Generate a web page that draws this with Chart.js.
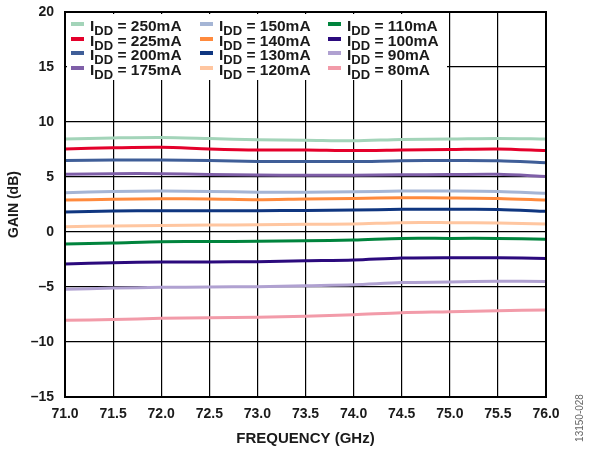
<!DOCTYPE html>
<html lang="en">
<head>
<meta charset="UTF-8">
<title>Gain vs Frequency</title>
<script src="https://cdn.jsdelivr.net/npm/chart.js"></script>
<style>
  html,body{margin:0;padding:0;background:#fff;}
  #wrap{position:relative;width:592px;height:454px;}
  #legendBox{position:absolute;left:67px;top:14px;width:380px;height:66px;background:#fff;
             font-family:"Liberation Sans",Arial,sans-serif;font-weight:bold;font-size:15.5px;color:#1a1a1a;}
  .item{position:absolute;white-space:nowrap;line-height:15px;}
  .sw{position:absolute;width:13px;height:4px;}
  .item sub{font-size:13px;vertical-align:-4px;line-height:0;}
</style>
</head>
<body>
<div id="wrap">
  <canvas id="c" width="592" height="454"></canvas>
  <div id="legendBox"></div>
</div>
<script>
// frequency points (GHz)
const freqs = [71.0, 71.5, 72.0, 72.5, 73.0, 73.5, 74.0, 74.5, 75.0, 75.5, 76.0];

// gain (dB) per supply current
const g250 = [8.45, 8.55, 8.6, 8.5, 8.38, 8.35, 8.3, 8.42, 8.45, 8.5, 8.45];
const g225 = [7.55, 7.65, 7.7, 7.55, 7.45, 7.45, 7.4, 7.45, 7.5, 7.55, 7.4];
const g200 = [6.5, 6.55, 6.55, 6.5, 6.42, 6.42, 6.4, 6.48, 6.5, 6.48, 6.3];
const g175 = [5.25, 5.3, 5.3, 5.22, 5.18, 5.16, 5.15, 5.2, 5.22, 5.24, 5.05];
const g150 = [3.57, 3.68, 3.72, 3.68, 3.62, 3.62, 3.65, 3.72, 3.72, 3.68, 3.52];
const g140 = [2.9, 2.98, 3.02, 3.0, 2.93, 3.0, 3.05, 3.12, 3.1, 3.05, 2.9];
const g130 = [1.82, 1.9, 1.94, 1.94, 1.94, 1.96, 2.0, 2.06, 2.06, 2.05, 1.88];
const g120 = [0.48, 0.55, 0.6, 0.63, 0.66, 0.7, 0.73, 0.85, 0.85, 0.82, 0.73];
const g110 = [-1.09, -1.0, -0.88, -0.87, -0.85, -0.8, -0.73, -0.58, -0.58, -0.58, -0.67];
const g100 = [-2.9, -2.8, -2.73, -2.72, -2.7, -2.62, -2.55, -2.36, -2.33, -2.35, -2.4];
const g90  = [-5.2, -5.1, -5.03, -5.0, -4.97, -4.88, -4.79, -4.6, -4.55, -4.48, -4.5];
const g80  = [-8.03, -7.95, -7.85, -7.8, -7.76, -7.65, -7.52, -7.33, -7.25, -7.15, -7.09];

const currents = ["250", "225", "200", "175", "150", "140", "130", "120", "110", "100", "90", "80"];
const gains = [g250, g225, g200, g175, g150, g140, g130, g120, g110, g100, g90, g80];
const colors = ["#a3d4b9", "#e4002b", "#3f5e98", "#7f5fa8", "#a5b5d5", "#ff8a3d",
                "#0f3680", "#ffc6a0", "#00843d", "#2b0a7d", "#b0a1d1", "#f29ba9"];

const yTicks = [-15, -10, -5, 0, 5, 10, 15, 20];

const datasets = currents.map((c, i) => ({
  label: "IDD = " + c + "mA",
  data: freqs.map((f, j) => ({x: f, y: gains[i][j]})),
  borderColor: colors[i],
  borderWidth: 3,
  pointRadius: 0,
  tension: 0.3,
  fill: false
}));

// legend (html so the DD subscript stays real text)
const lb = document.getElementById("legendBox");
const colX = [4, 133, 261];
currents.forEach((c, i) => {
  const col = Math.floor(i / 4), row = i % 4;
  const y = row * 14.7;
  const sw = document.createElement("div");
  sw.className = "sw";
  sw.style.left = colX[col] + "px";
  sw.style.top = (y + 8) + "px";
  sw.style.background = colors[i];
  lb.appendChild(sw);
  const t = document.createElement("div");
  t.className = "item";
  t.style.left = (colX[col] + 19) + "px";
  t.style.top = (y + 4) + "px";
  t.innerHTML = "I<sub>DD</sub> = " + c + "mA";
  lb.appendChild(t);
});

const font = {family: "'Liberation Sans', Arial, sans-serif", weight: "bold", size: 14};

const extras = {
  id: "extras",
  afterDatasetsDraw(chart) {
    const {ctx, chartArea: a} = chart;
    ctx.save();
    ctx.strokeStyle = "#000";
    ctx.lineWidth = 2;
    ctx.strokeRect(a.left, a.top, a.right - a.left, a.bottom - a.top);
    ctx.restore();
  },
  afterDraw(chart) {
    const ctx = chart.ctx;
    ctx.save();
    ctx.translate(580, 418);
    ctx.rotate(-Math.PI / 2);
    ctx.fillStyle = "#666";
    ctx.font = "10px 'Liberation Sans', Arial, sans-serif";
    ctx.textAlign = "center";
    ctx.textBaseline = "middle";
    ctx.fillText("13150-028", 0, 0);
    ctx.restore();
  }
};

new Chart(document.getElementById("c"), {
  type: "line",
  data: {datasets},
  plugins: [extras],
  options: {
    responsive: false,
    animation: false,
    layout: {padding: {top: 12, right: 46, left: 0, bottom: 0}},
    plugins: {legend: {display: false}, tooltip: {enabled: false}},
    scales: {
      x: {
        type: "linear", min: 71, max: 76,
        afterFit: s => { s.height = 57; s.paddingLeft = 0; s.paddingRight = 0; },
        grid: {color: "#000", lineWidth: 1.2, drawTicks: false},
        border: {display: false},
        ticks: {stepSize: 0.5, padding: 9, color: "#1a1a1a", font,
                maxRotation: 0, autoSkip: false, callback: v => v.toFixed(1)},
        title: {display: true, text: "FREQUENCY (GHz)", color: "#1a1a1a",
                font: {family: font.family, weight: "bold", size: 15}, padding: {top: 0, bottom: 6}}
      },
      y: {
        min: -15, max: 20,
        afterFit: s => { s.width = 65; s.paddingTop = 0; s.paddingBottom = 0; },
        afterBuildTicks: s => { s.ticks = yTicks.map(v => ({value: v})); },
        grid: {color: "#000", lineWidth: 1.2, drawTicks: false},
        border: {display: false},
        ticks: {padding: 11, color: "#1a1a1a", font,
                callback: v => v < 0 ? "\u2013" + Math.abs(v) : String(v)},
        title: {display: true, text: "GAIN (dB)", color: "#1a1a1a",
                font: {family: font.family, weight: "bold", size: 14}, padding: {top: 6, bottom: 0}}
      }
    }
  }
});
</script>
</body>
</html>
